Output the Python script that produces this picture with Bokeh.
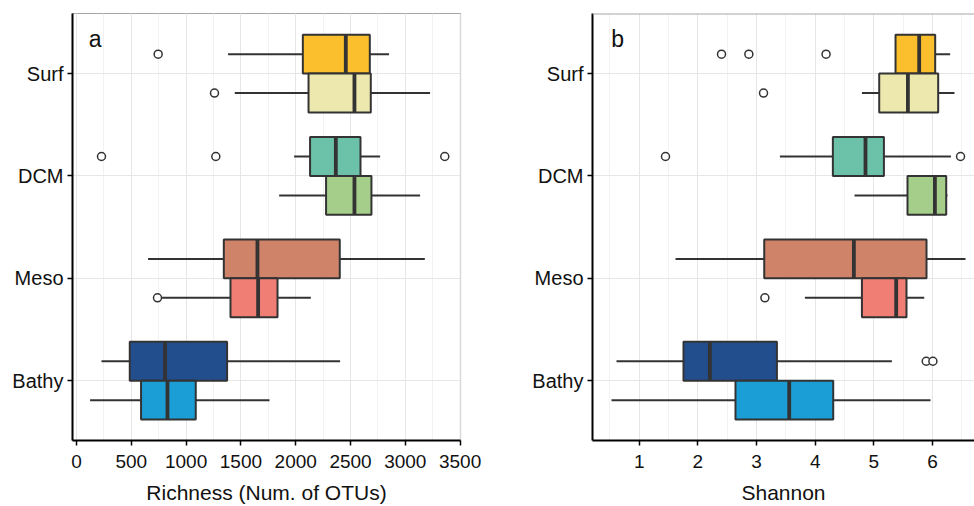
from bokeh.plotting import figure
from bokeh.layouts import row
from bokeh.models import (Range1d, SingleIntervalTicker, FixedTicker, Label, Span,
                          ColumnDataSource)
from bokeh.embed import file_html
from bokeh.resources import INLINE

# ---------------- data ----------------
categories = ["Surf", "DCM", "Meso", "Bathy"]
category_rank = {"Surf": 4, "DCM": 3, "Meso": 2, "Bathy": 1}

box_category = ["Surf", "Surf", "DCM", "DCM", "Meso", "Meso", "Bathy", "Bathy"]
box_slot = ["upper", "lower", "upper", "lower", "upper", "lower", "upper", "lower"]
box_colors = ["#FBBE2C", "#EDE8AD", "#6CC2A8", "#A5CE8A",
              "#CF8368", "#F07E75", "#234E8E", "#1B9ED6"]

# Panel a: Richness (Num. of OTUs)
rich_lo = [1383, 1444, 1985, 1849, 653, 780, 228, 124]
rich_q1 = [2065, 2117, 2131, 2277, 1344, 1405, 486, 589]
rich_med = [2457, 2536, 2366, 2536, 1651, 1657, 808, 830]
rich_q3 = [2676, 2685, 2591, 2691, 2402, 1834, 1374, 1088]
rich_hi = [2852, 3226, 2770, 3135, 3178, 2138, 2405, 1761]
rich_out_category = ["Surf", "Surf", "DCM", "DCM", "DCM", "Meso"]
rich_out_slot = ["upper", "lower", "upper", "upper", "upper", "lower"]
rich_out_value = [745, 1259, 228, 1271, 3360, 739]

# Panel b: Shannon
sh_lo = [5.369, 4.796, 3.398, 4.67, 1.619, 3.824, 0.613, 0.528]
sh_q1 = [5.369, 5.091, 4.301, 5.573, 3.131, 4.796, 1.755, 2.641]
sh_med = [5.772, 5.58, 4.857, 6.04, 4.659, 5.38, 2.205, 3.557]
sh_q3 = [6.045, 6.096, 5.171, 6.233, 5.897, 5.556, 3.347, 4.307]
sh_hi = [6.30, 6.374, 6.313, 6.255, 6.562, 5.858, 5.307, 5.965]
sh_out_category = ["Surf", "Surf", "Surf", "Surf", "DCM", "DCM", "Meso", "Bathy", "Bathy"]
sh_out_slot = ["upper", "upper", "upper", "lower", "upper", "upper", "lower", "upper", "upper"]
sh_out_value = [2.403, 2.869, 4.185, 3.119, 1.448, 6.477, 3.142, 5.892, 6.006]

# ---------------- style ----------------
FONT = "Liberation Sans"
EDGE = "#333333"
BOX_H = 0.38
DODGE = {"upper": 0.19, "lower": -0.19}
Y_RANGE = (0.416, 4.587)


def ypos(cat, slot):
    return category_rank[cat] + DODGE[slot]


def make_panel(lo, q1, med, q3, hi, oc, osl, ov, x_range, tick_interval,
               xlabel, letter, letter_x, width, border_left, border_right, top_border_only):
    p = figure(width=width, height=506, output_backend="svg", toolbar_location=None,
               x_range=Range1d(*x_range), y_range=Range1d(*Y_RANGE),
               min_border_left=border_left, min_border_right=border_right,
               min_border_top=13, min_border_bottom=66)
    p.background_fill_color = "white"
    p.border_fill_color = "white"

    ys = [ypos(c, s) for c, s in zip(box_category, box_slot)]
    src = ColumnDataSource(dict(y=ys, lo=lo, q1=q1, med=med, q3=q3, hi=hi,
                                color=box_colors,
                                ytop=[y + BOX_H / 2 for y in ys],
                                ybot=[y - BOX_H / 2 for y in ys]))
    # whiskers
    p.segment(x0="lo", y0="y", x1="q1", y1="y", source=src, line_color=EDGE, line_width=2)
    p.segment(x0="q3", y0="y", x1="hi", y1="y", source=src, line_color=EDGE, line_width=2)
    # boxes
    p.hbar(y="y", left="q1", right="q3", height=BOX_H, source=src, fill_color="color",
           line_color=EDGE, line_width=2)
    # medians
    p.segment(x0="med", y0="ybot", x1="med", y1="ytop", source=src, line_color=EDGE,
              line_width=3.8)
    # outliers
    osrc = ColumnDataSource(dict(x=ov, y=[ypos(c, s) for c, s in zip(oc, osl)]))
    p.scatter(x="x", y="y", source=osrc, size=8, fill_color="white", line_color=EDGE,
              line_width=1.5)

    # axes
    p.xaxis.ticker = SingleIntervalTicker(interval=tick_interval, num_minor_ticks=2)
    p.yaxis.ticker = FixedTicker(ticks=[category_rank[c] for c in categories])
    p.yaxis.major_label_overrides = {category_rank[c]: c for c in categories}
    for ax in (p.xaxis, p.yaxis):
        ax.axis_line_color = "black"
        ax.axis_line_width = 2
        ax.major_tick_line_color = "black"
        ax.major_tick_line_width = 1.5
        ax.major_tick_out = 5
        ax.major_tick_in = 0
        ax.minor_tick_line_color = None
        ax.major_label_text_font = FONT
        ax.major_label_text_color = "#111111"
        ax.axis_label_text_font = FONT
        ax.axis_label_text_font_style = "normal"
        ax.axis_label_text_color = "#111111"
    p.yaxis.major_label_text_font_size = "20px"
    p.yaxis.major_label_standoff = 4
    p.xaxis.major_label_text_font_size = "19px"
    p.xaxis.major_label_standoff = 9
    p.xaxis.axis_label = xlabel
    p.xaxis.axis_label_text_font_size = "21px"
    p.xaxis.axis_label_standoff = 10

    # grid
    p.xgrid.grid_line_color = "#E6E6E6"
    p.xgrid.grid_line_width = 1
    p.xgrid.minor_grid_line_color = "#F2F2F2"
    p.xgrid.minor_grid_line_width = 1
    p.ygrid.ticker = FixedTicker(ticks=[category_rank[c] for c in categories])
    p.ygrid.grid_line_color = "#E6E6E6"

    if top_border_only:
        p.outline_line_color = None
        p.add_layout(Span(location=Y_RANGE[1], dimension="width", line_color="#A6A6A6",
                          line_width=2))
    else:
        p.outline_line_color = "#A6A6A6"
        p.outline_line_width = 1.2

    p.add_layout(Label(x=letter_x, y=4.335, text=letter, text_font=FONT,
                       text_font_size="23px", text_color="#111111",
                       text_baseline="alphabetic", text_align="left"))
    return p


pa = make_panel(rich_lo, rich_q1, rich_med, rich_q3, rich_hi,
                rich_out_category, rich_out_slot, rich_out_value,
                (-36.5, 3503.5), 500, "Richness (Num. of OTUs)", "a", 112,
                width=488, border_left=72, border_right=28, top_border_only=False)
pb = make_panel(sh_lo, sh_q1, sh_med, sh_q3, sh_hi,
                sh_out_category, sh_out_slot, sh_out_value,
                (0.204, 6.715), 1, "Shannon", "b", 0.523,
                width=486, border_left=104, border_right=0, top_border_only=True)

layout = row(pa, pb)
open("out.html", "w").write(file_html(layout, INLINE))
